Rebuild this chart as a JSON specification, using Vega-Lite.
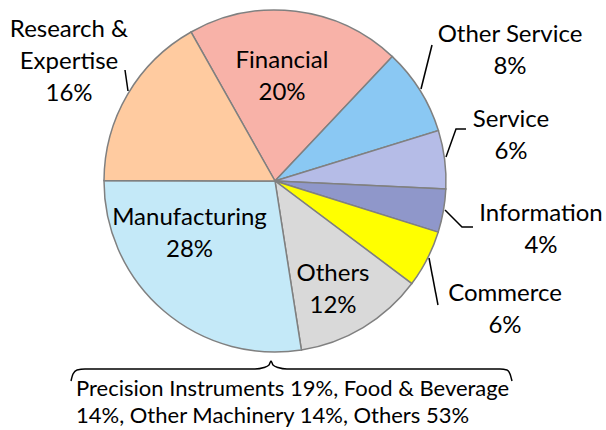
{
  "$schema": "https://vega.github.io/schema/vega-lite/v6.json",
  "width": 550,
  "height": 362,
  "autosize": {"type": "none"},
  "padding": {"left": 0, "top": 0, "right": 56, "bottom": 68},
  "background": "white",
  "config": {"view": {"stroke": null}, "text": {"font": "Lato"}},
  "datasets": {
    "sectors": [
      {"idx": 1, "sector": "Financial", "share": 20.2},
      {"idx": 2, "sector": "Other Service", "share": 8.2},
      {"idx": 3, "sector": "Service", "share": 5.5},
      {"idx": 4, "sector": "Information", "share": 4.1},
      {"idx": 5, "sector": "Commerce", "share": 5.4},
      {"idx": 6, "sector": "Others", "share": 12.3},
      {"idx": 7, "sector": "Manufacturing", "share": 27.5},
      {"idx": 8, "sector": "Research & Expertise", "share": 16.8}
    ],
    "labels": [
      {"text": "Research &\nExpertise\n16%", "ux": -1.2047, "uy": 0.8421},
      {"text": "Financial\n20%", "ux": 0.0409, "uy": 0.6608},
      {"text": "Other Service\n8%", "ux": 1.3743, "uy": 0.8129},
      {"text": "Service\n6%", "ux": 1.3801, "uy": 0.3158},
      {"text": "Information\n4%", "ux": 1.5556, "uy": -0.2339},
      {"text": "Commerce\n6%", "ux": 1.345, "uy": -0.7018},
      {"text": "Others\n12%", "ux": 0.3392, "uy": -0.5848},
      {"text": "Manufacturing\n28%", "ux": -0.5, "uy": -0.2573}
    ],
    "note": [
      {"text": "Precision Instruments 19%, Food & Beverage\n14%, Other Machinery 14%, Others 53%", "ux": -1.1637, "uy": -1.2573}
    ],
    "leaders": [
      {"id": "Research", "seq": 1, "ux": -0.8772, "uy": 0.6491},
      {"id": "Research", "seq": 2, "ux": -0.8596, "uy": 0.5263},
      {"id": "OtherService", "seq": 1, "ux": 0.9181, "uy": 0.7953},
      {"id": "OtherService", "seq": 2, "ux": 0.8538, "uy": 0.538},
      {"id": "Service", "seq": 1, "ux": 1.117, "uy": 0.3041},
      {"id": "Service", "seq": 2, "ux": 1.0585, "uy": 0.3041},
      {"id": "Service", "seq": 3, "ux": 1.0, "uy": 0.1404},
      {"id": "Information", "seq": 1, "ux": 0.9942, "uy": -0.1696},
      {"id": "Information", "seq": 2, "ux": 1.0936, "uy": -0.269},
      {"id": "Information", "seq": 3, "ux": 1.1579, "uy": -0.269},
      {"id": "Commerce", "seq": 1, "ux": 0.9006, "uy": -0.4503},
      {"id": "Commerce", "seq": 2, "ux": 0.9532, "uy": -0.7251}
    ],
    "brace": [
      {"seq": 1, "ux": -1.193, "uy": -1.1696},
      {"seq": 2, "ux": -1.1813, "uy": -1.1287},
      {"seq": 3, "ux": -1.1579, "uy": -1.1053},
      {"seq": 4, "ux": -1.1111, "uy": -1.0994},
      {"seq": 5, "ux": -0.117, "uy": -1.0994},
      {"seq": 6, "ux": -0.0643, "uy": -1.0906},
      {"seq": 7, "ux": -0.0351, "uy": -1.076},
      {"seq": 8, "ux": -0.0234, "uy": -1.0526},
      {"seq": 9, "ux": -0.0117, "uy": -1.076},
      {"seq": 10, "ux": 0.0175, "uy": -1.0906},
      {"seq": 11, "ux": 0.0702, "uy": -1.0994},
      {"seq": 12, "ux": 1.3158, "uy": -1.0994},
      {"seq": 13, "ux": 1.3567, "uy": -1.1053},
      {"seq": 14, "ux": 1.3743, "uy": -1.1287},
      {"seq": 15, "ux": 1.386, "uy": -1.1696}
    ]
  },
  "layer": [
    {
      "data": {"name": "sectors"},
      "mark": {"type": "arc", "outerRadius": 171, "stroke": "#808080", "strokeWidth": 1.5},
      "encoding": {
        "theta": {"field": "share", "type": "quantitative", "stack": true, "scale": {"range": [-0.513, 5.7702]}},
        "order": {"field": "idx", "type": "quantitative"},
        "color": {
          "field": "sector",
          "type": "nominal",
          "legend": null,
          "scale": {
            "domain": ["Financial", "Other Service", "Service", "Information", "Commerce", "Others", "Manufacturing", "Research & Expertise"],
            "range": ["#F8B2A8", "#8AC8F3", "#B5BCE7", "#8F97CA", "#FFFF00", "#D9D9D9", "#C4E9F8", "#FFCBA0"]
          }
        }
      }
    },
    {
      "data": {"name": "leaders"},
      "mark": {"type": "line", "color": "#000000", "strokeWidth": 1.5},
      "encoding": {
        "x": {"field": "ux", "type": "quantitative", "scale": {"domain": [-1.6082, 1.6082], "nice": false, "zero": false}, "axis": null},
        "y": {"field": "uy", "type": "quantitative", "scale": {"domain": [-1.0585, 1.0585], "nice": false, "zero": false}, "axis": null},
        "detail": {"field": "id"},
        "order": {"field": "seq", "type": "quantitative"}
      }
    },
    {
      "data": {"name": "brace"},
      "mark": {"type": "line", "color": "#000000", "strokeWidth": 1.5, "interpolate": "monotone"},
      "encoding": {
        "x": {"field": "ux", "type": "quantitative", "scale": {"domain": [-1.6082, 1.6082], "nice": false, "zero": false}, "axis": null},
        "y": {"field": "uy", "type": "quantitative", "scale": {"domain": [-1.0585, 1.0585], "nice": false, "zero": false}, "axis": null},
        "order": {"field": "seq", "type": "quantitative"}
      }
    },
    {
      "data": {"name": "labels"},
      "mark": {"type": "text", "fontSize": 24, "lineHeight": 32, "lineBreak": "\n", "align": "center", "baseline": "alphabetic", "color": "#000000"},
      "encoding": {
        "x": {"field": "ux", "type": "quantitative", "scale": {"domain": [-1.6082, 1.6082], "nice": false, "zero": false}, "axis": null},
        "y": {"field": "uy", "type": "quantitative", "scale": {"domain": [-1.0585, 1.0585], "nice": false, "zero": false}, "axis": null},
        "text": {"field": "text"}
      }
    },
    {
      "data": {"name": "note"},
      "mark": {"type": "text", "fontSize": 22, "lineHeight": 27, "lineBreak": "\n", "align": "left", "baseline": "alphabetic", "color": "#000000"},
      "encoding": {
        "x": {"field": "ux", "type": "quantitative", "scale": {"domain": [-1.6082, 1.6082], "nice": false, "zero": false}, "axis": null},
        "y": {"field": "uy", "type": "quantitative", "scale": {"domain": [-1.0585, 1.0585], "nice": false, "zero": false}, "axis": null},
        "text": {"field": "text"}
      }
    }
  ]
}
